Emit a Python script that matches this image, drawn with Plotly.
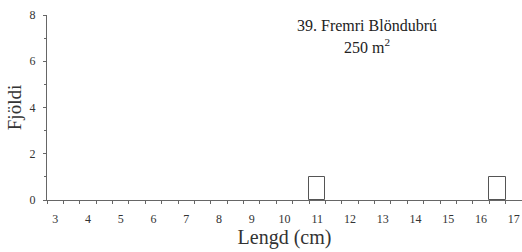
import plotly.graph_objects as go

# Data
bin_centers = [11.0, 16.5]      # length class centres (cm)
counts = [1, 1]                 # number of fish
bin_width = 0.5
x_tick_vals = list(range(3, 18))
x_tick_text = [str(v) for v in x_tick_vals]
y_tick_vals = [0, 2, 4, 6, 8]
title_line1 = "39. Fremri Blöndubrú"
title_line2 = "250 m<sup>2</sup>"

font_family = "Liberation Serif, Times New Roman, serif"
axis_col = "#666666"
text_col = "#333333"

L, R, T, B = 47, 0, 15, 52
W, H = 522, 252
plot_w = W - L - R
plot_h = H - T - B

def px_to_paper(px, py):
    return (px - L) / plot_w, (H - B - py) / plot_h

fig = go.Figure()
fig.add_trace(go.Bar(
    x=bin_centers, y=counts, width=bin_width,
    marker=dict(color="white", line=dict(color="#555555", width=1)),
    showlegend=False,
))

fig.update_layout(
    width=W, height=H,
    margin=dict(l=L, r=R, t=T, b=B, autoexpand=False),
    paper_bgcolor="white", plot_bgcolor="white",
    font=dict(family=font_family, color=text_col),
    bargap=0,
    xaxis=dict(
        range=[2.75, 17.25],
        tickvals=x_tick_vals, ticktext=x_tick_text,
        ticks="", ticklen=0, ticklabelstandoff=8,
        showline=True, linecolor=axis_col, linewidth=1,
        showgrid=False, zeroline=False, automargin=False,
        tickfont=dict(size=12, family=font_family, color=text_col),
        minor=dict(tick0=2.75, dtick=0.5, ticks="outside", ticklen=3,
                   tickcolor=axis_col, showgrid=False),
        title=dict(text="Lengd (cm)", font=dict(size=20, family=font_family, color=text_col),
                   standoff=4),
    ),
    yaxis=dict(
        range=[0, 8],
        tickvals=y_tick_vals,
        ticks="outside", ticklen=3, tickcolor=axis_col, ticklabelstandoff=5,
        showline=True, linecolor=axis_col, linewidth=1,
        showgrid=False, zeroline=False, automargin=False,
        tickfont=dict(size=12, family=font_family, color=text_col),
        minor=dict(dtick=1, tick0=0, ticks="outside", ticklen=2,
                   tickcolor=axis_col, showgrid=False),
        title=dict(text="Fjöldi", font=dict(size=19, family=font_family, color=text_col),
                   standoff=2),
    ),
)

ax1, ay1 = px_to_paper(367, 25)
ax2, ay2 = px_to_paper(367, 46)
fig.add_annotation(text=title_line1, x=ax1, y=ay1, xref="paper", yref="paper",
                   showarrow=False, xanchor="center", yanchor="middle",
                   font=dict(size=16, family=font_family, color="#222222"))
fig.add_annotation(text=title_line2, x=ax2, y=ay2, xref="paper", yref="paper",
                   showarrow=False, xanchor="center", yanchor="middle",
                   font=dict(size=16, family=font_family, color="#222222"))

fig.write_html("out.html", config={"displayModeBar": False},
               post_script="document.body.style.margin='0';")
